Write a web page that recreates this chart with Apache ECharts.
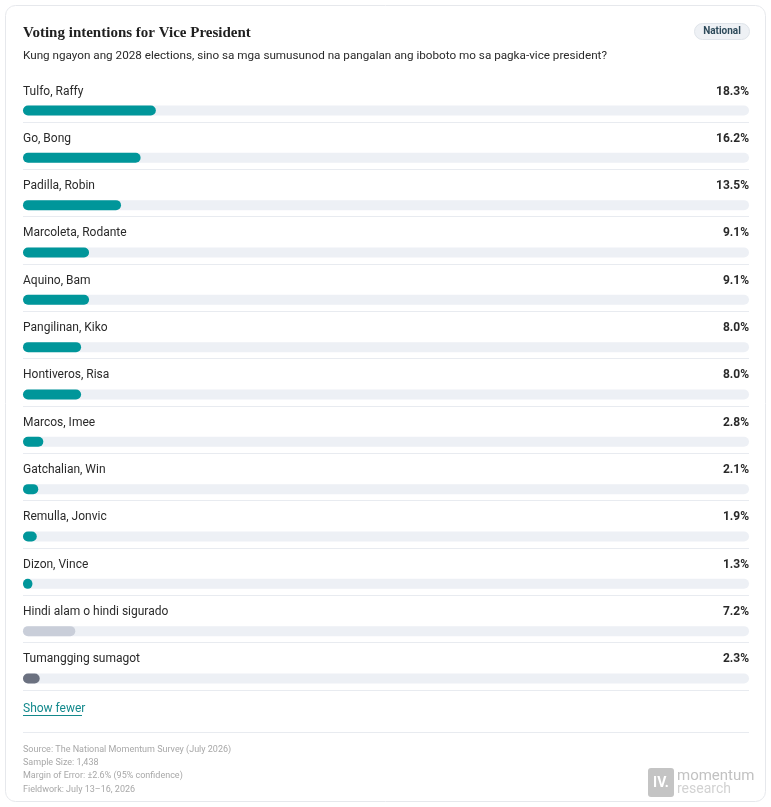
<!DOCTYPE html>
<html><head><meta charset="utf-8">
<script src="https://cdn.jsdelivr.net/npm/echarts@6/dist/echarts.min.js"></script>
<style>html,body{margin:0;padding:0;background:#fff}#c{width:771px;height:807px}</style>
</head><body><div id="c"></div>
<script>
const categories = ['Tulfo, Raffy','Go, Bong','Padilla, Robin','Marcoleta, Rodante','Aquino, Bam','Pangilinan, Kiko','Hontiveros, Risa','Marcos, Imee','Gatchalian, Win','Remulla, Jonvic','Dizon, Vince','Hindi alam o hindi sigurado','Tumangging sumagot'];
const values = [18.3,16.2,13.5,9.1,9.1,8.0,8.0,2.8,2.1,1.9,1.3,7.2,2.3];
const groups = ['candidate','candidate','candidate','candidate','candidate','candidate','candidate','candidate','candidate','candidate','candidate','undecided','refused'];
const groupColors = {candidate:'#00969a', undecided:'#c9ced9', refused:'#6b7180'};
const footerLines = ['Source: The National Momentum Survey (July 2026)','Sample Size: 1,438','Margin of Error: \u00b12.6% (95% confidence)','Fieldwork: July 13\u201316, 2026'];

const font = 'Roboto, "Noto Sans", sans-serif';
const chart = echarts.init(document.getElementById('c'), null, {renderer:'canvas'});
const rowH = 47.33;
const top0 = 110.5 - rowH/2;
chart.setOption({
  animation:false,
  grid:[
    {left:23,right:22,top:top0,height:rowH*categories.length},
    {left:23,right:22,top:122,height:rowH*(categories.length-1)}
  ],
  xAxis:[
    {type:'value',gridIndex:0,min:0,max:100,show:false},
    {type:'value',gridIndex:1,min:0,max:100,show:false}
  ],
  yAxis:[
    {type:'category',gridIndex:0,data:categories,inverse:true,show:false},
    {type:'category',gridIndex:1,data:categories.slice(1),inverse:true,
     axisLine:{show:false},axisTick:{show:false},axisLabel:{show:false},
     splitLine:{show:true,lineStyle:{color:'#e8ebf0',width:1}}}
  ],
  series:[
    {type:'bar',xAxisIndex:0,yAxisIndex:0,barWidth:10,barGap:'-100%',silent:true,
     data:categories.map(()=>100),
     itemStyle:{color:'#edf0f5',borderRadius:5},
     label:{show:true,position:[0,-14],align:'left',verticalAlign:'middle',
       formatter:p=>'{n|'+p.name+'}{v|'+values[p.dataIndex].toFixed(1)+'%}',
       rich:{
         n:{width:676,align:'left',fontSize:12,color:'#2a2a2a',fontFamily:font},
         v:{width:50,align:'right',fontSize:12,fontWeight:'bold',color:'#2a2a2a',fontFamily:font}
       }}},
    {type:'bar',xAxisIndex:0,yAxisIndex:0,barWidth:10,barGap:'-100%',silent:true,
     data:values.map((v,i)=>({value:v,itemStyle:{color:groupColors[groups[i]]}})),
     itemStyle:{borderRadius:5}}
  ],
  graphic:[
    {type:'rect',z:-10,shape:{x:5.5,y:5.5,width:760,height:796,r:10},style:{fill:'#fff',stroke:'#e6e8ec',lineWidth:1}},
    {type:'text',left:23,top:26,style:{text:'Voting intentions for Vice President',font:'bold 15px "Liberation Serif", serif',fill:'#1f1f1f'}},
    {type:'text',left:23,top:50,style:{text:'Kung ngayon ang 2028 elections, sino sa mga sumusunod na pangalan ang iboboto mo sa pagka-vice president?',font:'11.7px '+font,fill:'#2a2a2a'}},
    {type:'rect',shape:{x:694.5,y:23.5,width:55,height:16,r:8},style:{fill:'#eef1f5',stroke:'#dfe4ea',lineWidth:1}},
    {type:'text',x:722,y:31.5,style:{text:'National',font:'bold 10px '+font,fill:'#2d4a5a',align:'center',verticalAlign:'middle'}},
    {type:'text',left:23,top:703,style:{text:'Show fewer',font:'12px '+font,fill:'#13898c'}},
    {type:'line',shape:{x1:23,y1:715.5,x2:82,y2:715.5},style:{stroke:'#13898c',lineWidth:1}},
    {type:'line',shape:{x1:23,y1:732.5,x2:749,y2:732.5},style:{stroke:'#e8ebf0',lineWidth:1}},
    ...footerLines.map((t,i)=>({type:'text',left:23,top:745+i*13.3,style:{text:t,font:'9px '+font,fill:'#a8a8a8'}})),
    {type:'rect',shape:{x:648,y:768,width:26,height:29,r:3},style:{fill:'#c4c4c4'}},
    {type:'text',x:661,y:783,style:{text:'IV.',font:'bold 14px '+font,fill:'#fff',align:'center',verticalAlign:'middle'}},
    {type:'text',x:677,y:776,style:{text:'momentum',font:'15px '+font,fill:'#c2c2c2',verticalAlign:'middle'}},
    {type:'text',x:677,y:789,style:{text:'research',font:'14px '+font,fill:'#d2d2d2',verticalAlign:'middle'}}
  ]
});
</script></body></html>
